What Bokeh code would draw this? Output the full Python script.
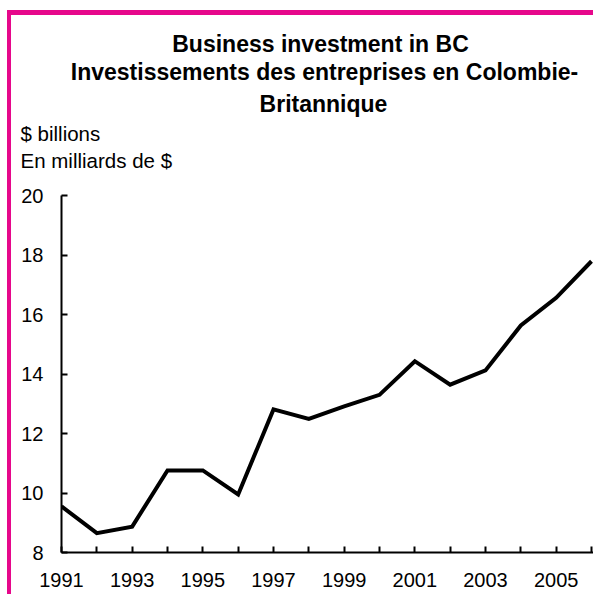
from bokeh.plotting import figure
from bokeh.models import Range1d, FixedTicker, Div, Spacer
from bokeh.layouts import column, row
from bokeh.core.properties import value
from bokeh.embed import file_html
from bokeh.resources import INLINE

# ---- data ----
years = [1991, 1992, 1993, 1994, 1995, 1996, 1997, 1998, 1999, 2000,
         2001, 2002, 2003, 2004, 2005, 2006]
investment = [9.55, 8.65, 8.87, 10.76, 10.76, 9.95, 12.81, 12.49, 12.91, 13.30,
              14.43, 13.64, 14.12, 15.63, 16.56, 17.79]
labeled_years = [1991, 1993, 1995, 1997, 1999, 2001, 2003, 2005]
unlabeled_years = [1992, 1994, 1996, 1998, 2000, 2002, 2004, 2006]
y_ticks = [8, 10, 12, 14, 16, 18, 20]
title_lines = ["Business investment in BC",
               "Investissements des entreprises en Colombie-",
               "Britannique"]
unit_lines = ["$ billions", "En milliards de $"]

# ---- layout / style constants (pixels) ----
PINK = "#E6078B"
FONT = "Liberation Sans"
W = 582            # width of the chart canvas
HEAD_H = 165       # height of the heading strip
PLOT_H = 414       # height of the plot canvas
title_cx = [309, 313, 312]          # centres of the title lines
title_base = [28.5, 56, 88.5]       # baselines of the title lines
unit_x = 9
unit_base = [118, 144.5]

# ---- heading strip (texts in pixel space) ----
head = figure(width=W, height=HEAD_H, output_backend="svg", toolbar_location=None,
              x_range=Range1d(0, W), y_range=Range1d(HEAD_H, 0),
              x_axis_type=None, y_axis_type=None, min_border=0, margin=0)
head.outline_line_color = None
head.grid.visible = False
head.text(x=title_cx, y=title_base, text=title_lines,
          text_font=value(FONT), text_font_size="23px",
          text_font_style="bold", text_color="black",
          text_align="center", text_baseline="alphabetic")
head.text(x=[unit_x] * len(unit_lines), y=unit_base, text=unit_lines,
          text_font=value(FONT), text_font_size="20.5px",
          text_color="black", text_align="left", text_baseline="alphabetic")

# ---- main plot ----
p = figure(width=W, height=PLOT_H, output_backend="svg", toolbar_location=None,
           x_range=Range1d(1991, 2006.057), y_range=Range1d(8, 20),
           min_border_left=50, min_border_right=0, min_border_top=15,
           min_border_bottom=42, margin=0)
p.outline_line_color = None
p.grid.visible = False
p.background_fill_color = "white"
p.border_fill_color = "white"

p.line(years, investment, line_color="black", line_width=4, line_join="miter")

xa = p.xaxis[0]
xa.ticker = FixedTicker(ticks=labeled_years, minor_ticks=unlabeled_years)
ya = p.yaxis[0]
ya.ticker = FixedTicker(ticks=y_ticks, minor_ticks=[])
for ax in (xa, ya):
    ax.axis_line_width = 2
    ax.axis_line_color = "black"
    ax.major_tick_line_width = 2
    ax.major_tick_line_color = "black"
    ax.major_tick_in = 6
    ax.major_tick_out = 0
    ax.minor_tick_line_width = 2
    ax.minor_tick_line_color = "black"
    ax.minor_tick_in = 6
    ax.minor_tick_out = 0
    ax.major_label_text_font = FONT
    ax.major_label_text_font_size = "20px"
    ax.major_label_text_color = "black"
xa.major_label_standoff = 20
ya.major_label_standoff = 18

# ---- frame with pink rules ----
def bar(w, h):
    return Div(width=w, height=h, margin=0, styles={"background-color": PINK})

def gap(w, h):
    return Spacer(width=w, height=h, margin=0)

layout = column(gap(593, 10),
                row(gap(7, 5), bar(586, 5), spacing=0, margin=0),
                row(gap(7, HEAD_H), bar(4, HEAD_H), head, spacing=0, margin=0),
                row(gap(7, PLOT_H), bar(4, PLOT_H), p, spacing=0, margin=0),
                spacing=0, margin=0)

open("out.html", "w").write(file_html(layout, INLINE))
